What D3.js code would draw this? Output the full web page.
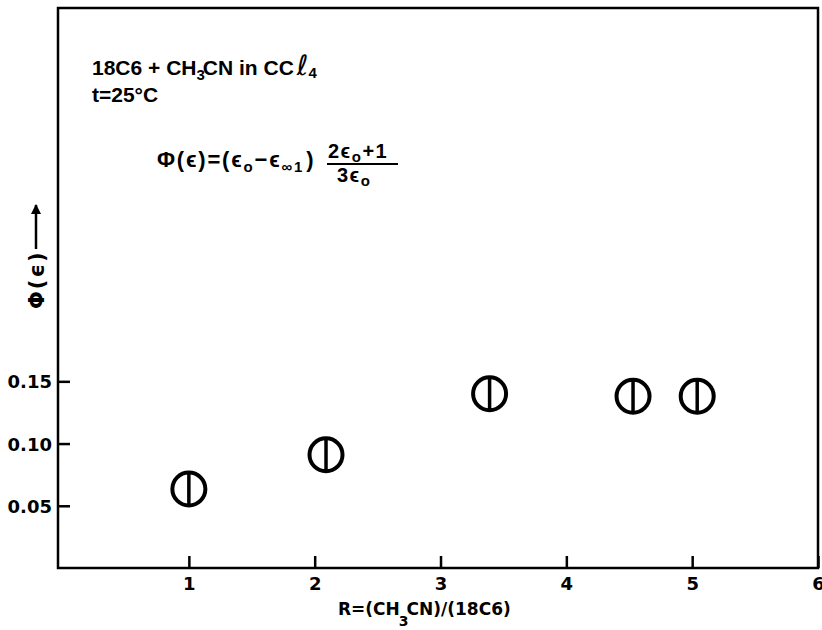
<!DOCTYPE html>
<html>
<head>
<meta charset="utf-8">
<script src="https://cdn.jsdelivr.net/npm/d3@7/dist/d3.min.js"></script>
<style>
  html, body { margin: 0; padding: 0; background: #fff; }
  svg { display: block; }
</style>
</head>
<body>
<svg id="chart" width="822" height="630"></svg>
<script>
// Molar ratio R = (CH3CN)/(18C6) and the dielectric function Φ(ε)
const ratioR = [1.0, 2.09, 3.39, 4.53, 5.04];
const phiValues = [0.0635, 0.091, 0.140, 0.138, 0.138];
const xTicks = [1, 2, 3, 4, 5, 6];
const yTicks = [0.05, 0.10, 0.15];

const SANS = "'Liberation Sans', Arial, sans-serif";
const WIDE = "'DejaVu Sans', sans-serif";

const svg = d3.select("#chart");
const frame = { left: 58, right: 818, top: 8, bottom: 568 };

const x = d3.scaleLinear().domain([-0.04, 6]).range([frame.left, frame.right]);
const y = d3.scaleLinear().domain([0, 0.45]).range([frame.bottom, frame.top]);

function txt(sel, family, size) {
  return sel.style("font-family", family).style("font-size", size + "px")
    .style("font-weight", "bold").style("fill", "#000");
}

// Plot frame
svg.append("rect")
  .attr("x", frame.left).attr("y", frame.top)
  .attr("width", frame.right - frame.left).attr("height", frame.bottom - frame.top)
  .attr("fill", "none").attr("stroke", "#000").attr("stroke-width", 2.5);

// Axes with inward ticks
const yAxis = svg.append("g")
  .attr("transform", `translate(${frame.left},0)`)
  .call(d3.axisLeft(y).tickValues(yTicks).tickSize(-12).tickPadding(6).tickFormat(d3.format(".2f")));
const xAxis = svg.append("g")
  .attr("transform", `translate(0,${frame.bottom})`)
  .call(d3.axisBottom(x).tickValues(xTicks).tickSize(-12).tickPadding(9).tickFormat(d3.format("d")));

[yAxis, xAxis].forEach(g => {
  g.select(".domain").remove();
  g.selectAll(".tick line").attr("stroke", "#000").attr("stroke-width", 2.5);
  txt(g.selectAll(".tick text"), WIDE, 18);
});
yAxis.selectAll(".tick text").attr("x", -6).attr("dy", "0.36em");

// Data markers: open circle with a vertical bar
const markers = svg.append("g").selectAll("g")
  .data(ratioR.map((r, i) => ({ r, phi: phiValues[i] })))
  .join("g")
  .attr("transform", d => `translate(${x(d.r)},${y(d.phi)})`);
markers.append("circle")
  .attr("r", 16.5).attr("fill", "none").attr("stroke", "#000").attr("stroke-width", 4);
markers.append("line")
  .attr("x1", 0).attr("x2", 0).attr("y1", -17).attr("y2", 17)
  .attr("stroke", "#000").attr("stroke-width", 3.5);

// System description
const t1 = txt(svg.append("text").attr("x", 92).attr("y", 75), SANS, 21);
t1.append("tspan").text("18C6 + CH");
t1.append("tspan").style("font-size", "15px").attr("dy", 5).text("3");
t1.append("tspan").attr("dy", -5).attr("dx", -2).text("CN in CC");
t1.append("tspan").style("font-size", "28px").style("font-style", "italic")
  .style("font-family", WIDE).style("font-weight", "normal").attr("dx", 3).text("ℓ");
t1.append("tspan").style("font-size", "15px").attr("dy", 3).text("4");

txt(svg.append("text").attr("x", 92).attr("y", 102), SANS, 21).text("t=25°C");

// Definition of Φ(ε)
const f = txt(svg.append("text").attr("x", 157).attr("y", 167), SANS, 22)
  .style("letter-spacing", "1.8px");
f.append("tspan").text("Φ(ϵ)=(ϵ");
f.append("tspan").style("font-size", "15px").attr("dy", 5).text("o");
f.append("tspan").attr("dy", -5).text("−ϵ");
f.append("tspan").style("font-size", "15px").attr("dy", 5).text("∞1");
f.append("tspan").attr("dy", -5).attr("dx", 2).text(")");

const num = txt(svg.append("text").attr("x", 328).attr("y", 158), SANS, 20)
  .style("letter-spacing", "1.5px");
num.append("tspan").text("2ϵ");
num.append("tspan").style("font-size", "15px").attr("dy", 4).text("o");
num.append("tspan").attr("dy", -4).text("+1");

svg.append("line").attr("x1", 327).attr("x2", 398).attr("y1", 164).attr("y2", 164)
  .attr("stroke", "#000").attr("stroke-width", 2);

const den = txt(svg.append("text").attr("x", 337).attr("y", 182), SANS, 20)
  .style("letter-spacing", "1.5px");
den.append("tspan").text("3ϵ");
den.append("tspan").style("font-size", "15px").attr("dy", 4).text("o");

// Y-axis title with arrow
svg.append("defs").append("marker")
  .attr("id", "arrow").attr("viewBox", "0 0 10 10").attr("refX", 9).attr("refY", 5)
  .attr("markerWidth", 4).attr("markerHeight", 4).attr("orient", "auto")
  .append("path").attr("d", "M0,0 L10,5 L0,10 Z").attr("fill", "#000");

txt(svg.append("text").attr("transform", "translate(44,309) rotate(-90)"), WIDE, 21)
  .style("letter-spacing", "2px").text("Φ(ϵ)");
svg.append("line").attr("x1", 36).attr("x2", 36).attr("y1", 249).attr("y2", 205)
  .attr("stroke", "#000").attr("stroke-width", 2.5).attr("marker-end", "url(#arrow)");

// X-axis title
const xl = txt(svg.append("text").attr("x", 338).attr("y", 615), WIDE, 17);
xl.append("tspan").text("R=(CH");
xl.append("tspan").style("font-size", "14px").attr("dy", 11).attr("dx", -1).text("3");
xl.append("tspan").attr("dy", -11).attr("dx", -2).text("CN)/(18C6)");
</script>
</body>
</html>
